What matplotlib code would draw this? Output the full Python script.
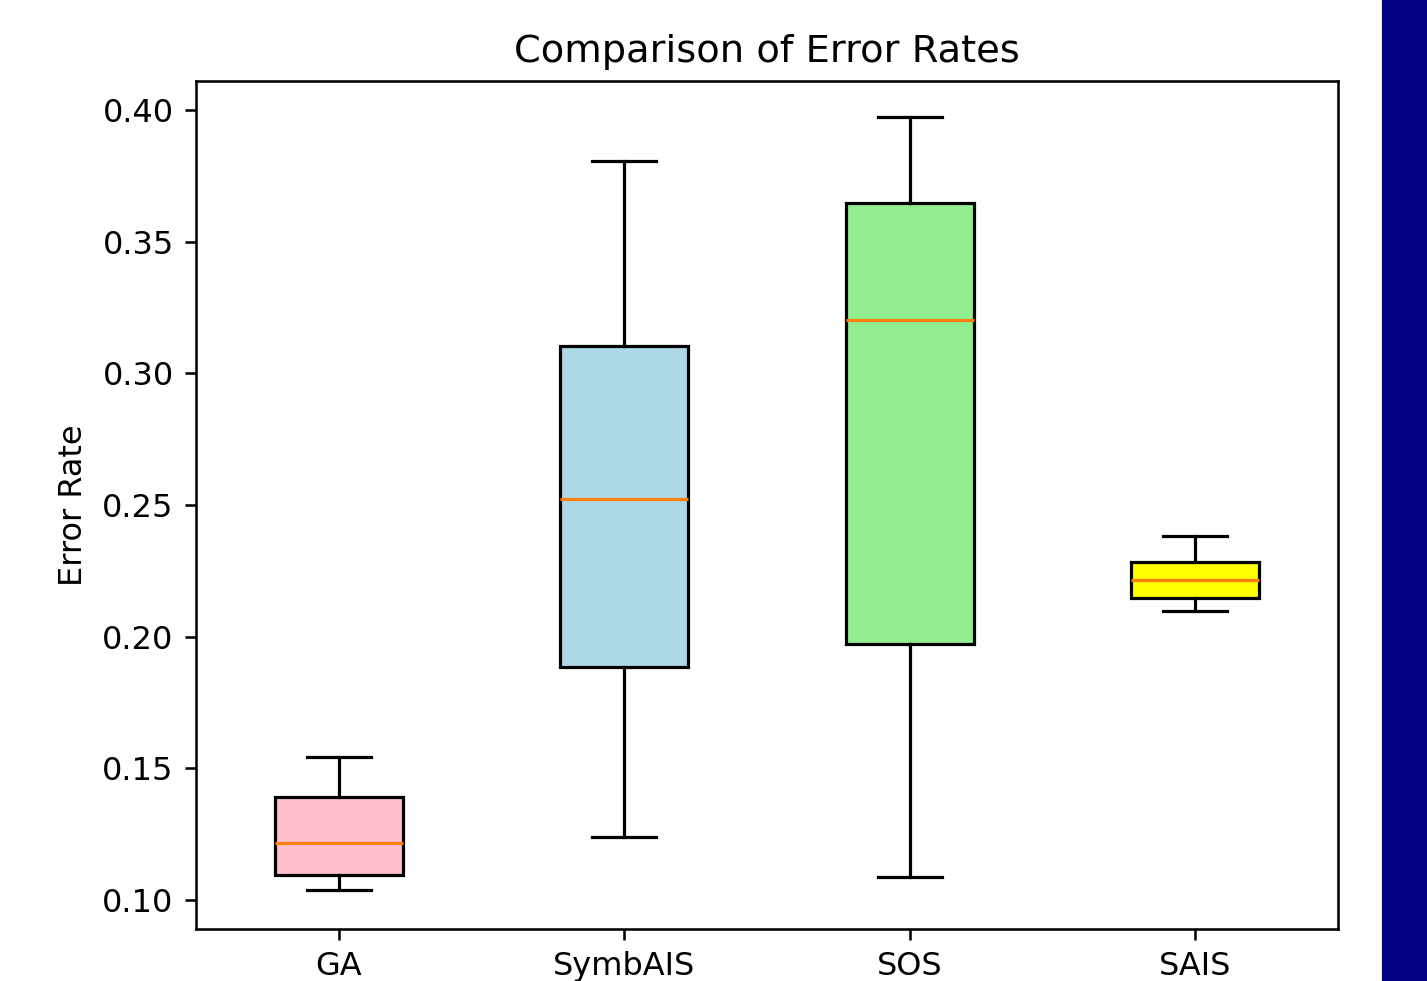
import matplotlib
matplotlib.use("Agg")
import matplotlib.pyplot as plt
from matplotlib.patches import Rectangle

methods = ["GA", "SymbAIS", "SOS", "SAIS"]
whisker_low = [0.1038, 0.1239, 0.1087, 0.2098]
q1 = [0.1095, 0.1885, 0.1972, 0.2147]
median = [0.1216, 0.2523, 0.3203, 0.2215]
q3 = [0.1391, 0.3104, 0.3647, 0.2284]
whisker_high = [0.1543, 0.3806, 0.3973, 0.2382]
colors = ["pink", "lightblue", "lightgreen", "yellow"]

stats = []
for i, m in enumerate(methods):
    stats.append(dict(label=m, whislo=whisker_low[i], q1=q1[i], med=median[i],
                      q3=q3[i], whishi=whisker_high[i], fliers=[]))

dpi = 230
fig = plt.figure(figsize=(1427 / dpi, 981 / dpi), dpi=dpi)
ax = fig.add_axes([196 / 1427, 52 / 981, (1338 - 196) / 1427, (929 - 81) / 981])

bp = ax.bxp(stats, widths=0.45, patch_artist=True, showfliers=False)
for patch, c in zip(bp["boxes"], colors):
    patch.set_facecolor(c)
    patch.set_edgecolor("black")

ax.set_ylim(0.0890, 0.4110)
ax.set_title("Comparison of Error Rates")
ax.set_ylabel("Error Rate")

fig.patches.append(Rectangle((1383 / 1427, 0), 1 - 1383 / 1427, 1,
                             transform=fig.transFigure, color="#000080", zorder=10))

fig.savefig("out.png", dpi=dpi)
